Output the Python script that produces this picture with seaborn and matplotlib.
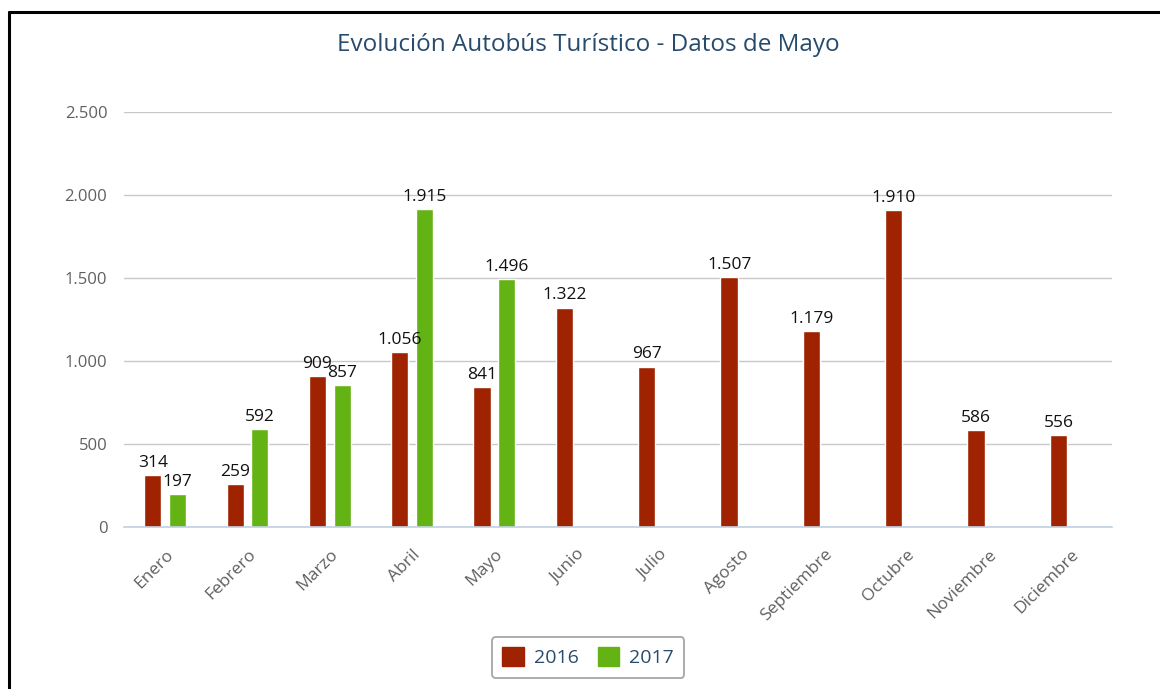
import numpy as np
import pandas as pd
import matplotlib
matplotlib.use("Agg")
import matplotlib.pyplot as plt
import seaborn as sns
from matplotlib.lines import Line2D
from matplotlib.patches import Patch

# Data
months = ["Enero", "Febrero", "Marzo", "Abril", "Mayo", "Junio", "Julio",
          "Agosto", "Septiembre", "Octubre", "Noviembre", "Diciembre"]
visits_2016 = [314, 259, 909, 1056, 841, 1322, 967, 1507, 1179, 1910, 586, 556]
visits_2017 = [197, 592, 857, 1915, 1496, np.nan, np.nan, np.nan, np.nan,
               np.nan, np.nan, np.nan]
years = ["2016", "2017"]
y_ticks = [0, 500, 1000, 1500, 2000, 2500]

df = pd.DataFrame({
    "Mes": months * 2,
    "Año": ["2016"] * 12 + ["2017"] * 12,
    "Valor": visits_2016 + visits_2017,
})

sns.set_style("white")
plt.rcParams["font.family"] = ["Open Sans", "DejaVu Sans"]

red = "#9f2300"
green = "#64b314"
title_col = "#274b6d"
label_col = "#606060"

fig = plt.figure(figsize=(11.6, 6.89), dpi=100)
ax = fig.add_axes([0.1069, 0.2351, 0.8517, 0.6023])

sns.barplot(data=df, x="Mes", y="Valor", hue="Año", order=months,
            hue_order=years, palette=[red, green], width=0.6, gap=0.3,
            ax=ax, legend=False, saturation=1)

# Data labels with dot thousands separator
fmt = lambda v: f"{v:,.0f}".replace(",", ".")
for cont in ax.containers:
    ax.bar_label(cont, fmt=fmt, padding=3, fontsize=12.5, color="#111111")

ax.set_ylim(0, 2500)
ax.set_xlim(-0.5, 11.5)
ax.set_yticks(y_ticks)
ax.set_yticklabels([f"{t:,}".replace(",", ".") for t in y_ticks],
                   color=label_col, fontsize=12)
ax.yaxis.grid(True, color="#c8c8c8", linewidth=1)
ax.set_axisbelow(True)
ax.tick_params(axis="y", length=0, pad=12)

# x axis: labels at centers, ticks at boundaries
ax.set_xticks(range(len(months)))
ax.set_xticklabels(months, rotation=45, ha="right", rotation_mode="anchor",
                   color=label_col, fontsize=12.5)
ax.tick_params(axis="x", length=0, pad=14)
ax.set_xticks(np.arange(-0.5, 12, 1), minor=True)
ax.tick_params(axis="x", which="minor", length=7, color="#c0d0e0", width=1)

for s in ["top", "right", "left"]:
    ax.spines[s].set_visible(False)
ax.spines["bottom"].set_color("#c0d0e0")
ax.spines["bottom"].set_linewidth(1.2)

ax.set_xlabel("")
ax.set_ylabel("")

fig.text(0.507, 0.935, "Evolución Autobús Turístico - Datos de Mayo",
         ha="center", va="center", fontsize=17.5, color=title_col)

handles = [Patch(facecolor=red, edgecolor=red), Patch(facecolor=green, edgecolor=green)]
leg = fig.legend(handles, years, loc="center", bbox_to_anchor=(0.507, 0.046),
                 ncol=2, frameon=True, fontsize=14, handlelength=1.1,
                 handleheight=1.1, handletextpad=0.5, columnspacing=1.0,
                 borderpad=0.55, fancybox=True)
leg.get_frame().set_edgecolor("#909090")
leg.get_frame().set_linewidth(1.3)
for t in leg.get_texts():
    t.set_color(title_col)

# outer frame (top and left)
fig.add_artist(Line2D([0.0078, 1.0], [0.982, 0.982], color="black", lw=2.2))
fig.add_artist(Line2D([0.0078, 0.0078], [0.0, 0.982], color="black", lw=2.2))

fig.savefig("out.png", dpi=100)
